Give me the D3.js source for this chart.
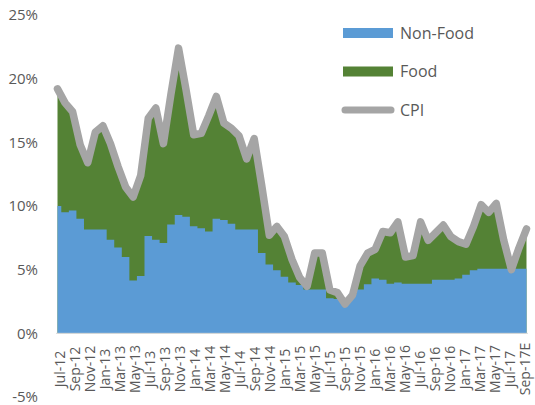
<!DOCTYPE html>
<html>
<head>
<meta charset="utf-8">
<script src="https://cdn.jsdelivr.net/npm/d3@7"></script>
<style>
  body { margin: 0; background: #fff; }
  svg { display: block; font-family: "Open Sans", sans-serif; }
</style>
</head>
<body>
<svg id="canvas" width="535" height="405"></svg>
<script>
// months, Jul-12 .. Sep-17E
let months = [
  "Jul-12","Aug-12","Sep-12","Oct-12","Nov-12","Dec-12",
  "Jan-13","Feb-13","Mar-13","Apr-13","May-13","Jun-13","Jul-13","Aug-13","Sep-13","Oct-13","Nov-13","Dec-13",
  "Jan-14","Feb-14","Mar-14","Apr-14","May-14","Jun-14","Jul-14","Aug-14","Sep-14","Oct-14","Nov-14","Dec-14",
  "Jan-15","Feb-15","Mar-15","Apr-15","May-15","Jun-15","Jul-15","Aug-15","Sep-15","Oct-15","Nov-15","Dec-15",
  "Jan-16","Feb-16","Mar-16","Apr-16","May-16","Jun-16","Jul-16","Aug-16","Sep-16","Oct-16","Nov-16","Dec-16",
  "Jan-17","Feb-17","Mar-17","Apr-17","May-17","Jun-17","Jul-17","Aug-17","Sep-17E"
];

// non-food contribution (%)
let nonFood = [
  10.0, 9.5, 9.65, 9.0, 8.15, 8.15,
  8.15, 7.35, 6.75, 6.0, 4.15, 4.5, 7.65, 7.35, 7.1, 8.55, 9.3, 9.15,
  8.4, 8.25, 8.0, 9.0, 8.9, 8.6, 8.15, 8.15, 8.15, 6.3, 5.4, 4.95,
  4.45, 4.0, 3.8, 3.45, 3.45, 3.45, 2.75, 2.7, 2.6, 3.1, 3.45, 3.85,
  4.3, 4.2, 3.9, 4.0, 3.9, 3.9, 3.9, 3.9, 4.2, 4.2, 4.2, 4.3,
  4.6, 4.95, 5.08, 5.08, 5.08, 5.08, 5.08, 5.08, 5.08
];

// headline CPI (%)
let cpi = [
  19.2, 18.1, 17.4, 14.8, 13.4, 15.8,
  16.3, 14.9, 13.1, 11.5, 10.7, 12.4, 16.9, 17.7, 14.9, 18.8, 22.4, 19.1,
  15.6, 15.7, 17.1, 18.6, 16.5, 16.1, 15.5, 13.7, 15.3, 11.6, 7.7, 8.4,
  7.6, 5.8, 4.4, 3.7, 6.3, 6.3, 3.4, 3.2, 2.3, 3.0, 5.3, 6.3,
  6.6, 8.0, 7.9, 8.75, 6.0, 6.1, 8.75, 7.3, 7.9, 8.5, 7.6, 7.2,
  7.0, 8.4, 10.1, 9.5, 10.2, 7.3, 5.0, 6.7, 8.2
];

let yTicks = [-5, 0, 5, 10, 15, 20, 25];

let legendItems = ["Non-Food", "Food", "CPI"];
let colors = { "Non-Food": "#5b9bd5", "Food": "#548235", "CPI": "#a5a5a5" };

let canvas = d3.select("#canvas");

let xScale = d3.scaleLinear().domain([0, months.length - 1]).range([57.5, 526.5]);
let yScale = d3.scaleLinear().domain([-5, 25]).range([397, 15]);
// label positions sit slightly apart from the data points
let labelScale = d3.scaleLinear().domain([0, months.length - 1]).range([60.5, 525.5]);

// food = area from 0 up to the CPI line
let foodArea = d3.area()
  .x((d, i) => xScale(i))
  .y0(yScale(0))
  .y1((d) => yScale(d));

canvas.append("path")
  .datum(cpi)
  .attr("d", foodArea)
  .attr("fill", colors["Food"]);

// non-food drawn in monthly steps on top
let nonFoodArea = d3.area()
  .curve(d3.curveStep)
  .x((d, i) => xScale(i))
  .y0(yScale(0))
  .y1((d) => yScale(d));

canvas.append("path")
  .datum(nonFood)
  .attr("d", nonFoodArea)
  .attr("fill", colors["Non-Food"]);

// zero axis line
canvas.append("line")
  .attr("x1", 56).attr("x2", 528)
  .attr("y1", yScale(0)).attr("y2", yScale(0))
  .attr("stroke", "#d9d9d9")
  .attr("stroke-width", 1);

// CPI line
let cpiLine = d3.line()
  .x((d, i) => xScale(i))
  .y((d) => yScale(d));

canvas.append("path")
  .datum(cpi)
  .attr("d", cpiLine)
  .attr("fill", "none")
  .attr("stroke", colors["CPI"])
  .attr("stroke-width", 7.5)
  .attr("stroke-linejoin", "round")
  .attr("stroke-linecap", "round");

// y axis labels
canvas.selectAll(".ylabel")
  .data(yTicks)
  .enter()
  .append("text")
  .attr("class", "ylabel")
  .attr("x", 38)
  .attr("y", (d) => yScale(d))
  .attr("dy", "0.35em")
  .attr("text-anchor", "end")
  .attr("font-size", 15)
  .attr("fill", "#595959")
  .text((d) => d + "%");

// x labels, every other month
let tickIdx = months.map((m, i) => i).filter((i) => i % 2 === 0);

canvas.selectAll(".xlabel")
  .data(tickIdx)
  .enter()
  .append("text")
  .attr("class", "xlabel")
  .attr("transform", (i) => `translate(${labelScale(i)},369) rotate(-90)`)
  .attr("dy", "0.3em")
  .attr("text-anchor", "middle")
  .attr("font-size", 14)
  .attr("fill", "#595959")
  .text((i) => months[i]);

// legend
let legend = canvas.append("g");
legendItems.forEach((name, k) => {
  let cy = 33 + k * 38.5;
  if (name === "CPI") {
    legend.append("line")
      .attr("x1", 345).attr("x2", 391)
      .attr("y1", cy).attr("y2", cy)
      .attr("stroke", colors[name])
      .attr("stroke-width", 7)
      .attr("stroke-linecap", "round");
  } else {
    legend.append("rect")
      .attr("x", 343).attr("y", cy - 5)
      .attr("width", 50).attr("height", 10)
      .attr("fill", colors[name]);
  }
  legend.append("text")
    .attr("x", 400)
    .attr("y", cy)
    .attr("dy", "0.35em")
    .attr("font-size", 16)
    .attr("fill", "#595959")
    .text(name);
});
</script>
</body>
</html>
